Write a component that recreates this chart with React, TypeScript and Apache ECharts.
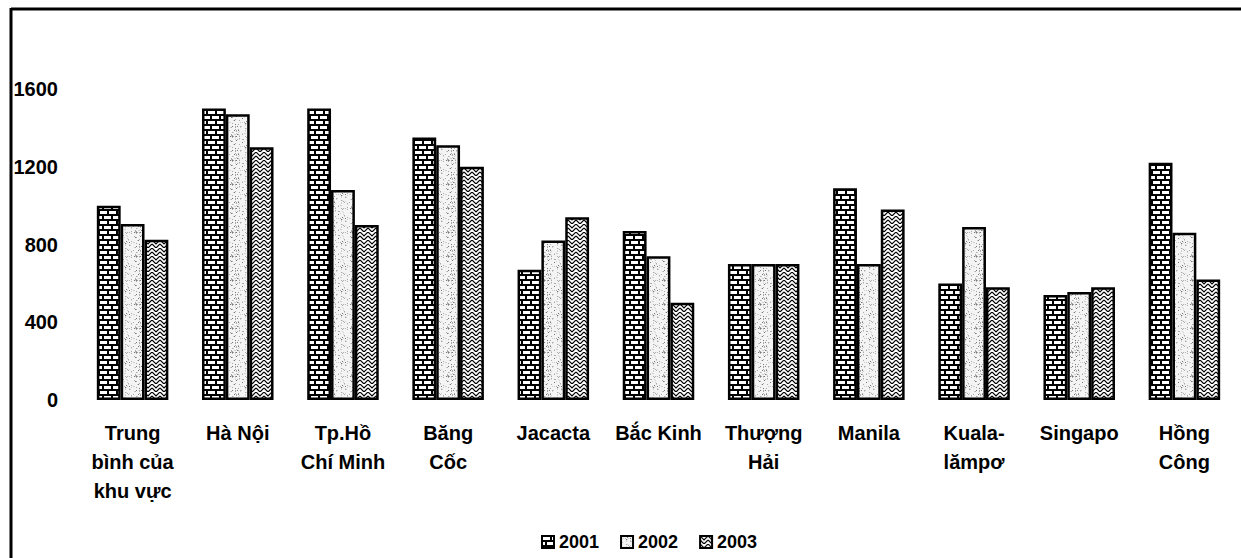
import React, { useEffect, useRef } from "react";
import * as echarts from "echarts";

const categories = [
  "Trung\nbình của\nkhu vực",
  "Hà Nội",
  "Tp.Hồ\nChí Minh",
  "Băng\nCốc",
  "Jacacta",
  "Bắc Kinh",
  "Thượng\nHải",
  "Manila",
  "Kuala-\nlămpơ",
  "Singapo",
  "Hồng\nCông",
];
const seriesNames = ["2001", "2002", "2003"];
const values2001 = [1000, 1500, 1500, 1350, 670, 870, 700, 1090, 600, 540, 1220];
const values2002 = [905, 1470, 1080, 1310, 820, 740, 700, 700, 890, 555, 860];
const values2003 = [825, 1300, 900, 1200, 940, 500, 700, 980, 580, 580, 620];
const yTicks = { min: 0, max: 1600, interval: 400 };

function brickPattern() {
  const c = document.createElement("canvas");
  c.width = 18;
  c.height = 10;
  const g = c.getContext("2d")!;
  g.fillStyle = "#000";
  g.fillRect(0, 0, 18, 10);
  g.fillStyle = "#fff";
  g.fillRect(1, 1, 7, 3);
  g.fillRect(10, 1, 7, 3);
  g.fillRect(0, 6, 3, 3);
  g.fillRect(5, 6, 7, 3);
  g.fillRect(14, 6, 4, 3);
  return c;
}

function stipplePattern() {
  const c = document.createElement("canvas");
  c.width = 24;
  c.height = 24;
  const g = c.getContext("2d")!;
  g.fillStyle = "#f4f4f4";
  g.fillRect(0, 0, 24, 24);
  let s = 12345;
  const next = () => {
    s = (s * 1103515245 + 12345) % 2147483648;
    return s / 2147483648;
  };
  for (let i = 0; i < 110; i++) {
    const x = Math.floor(next() * 24);
    const y = Math.floor(next() * 24);
    const v = next();
    g.fillStyle = v < 0.2 ? "#777" : v < 0.6 ? "#aaa" : "#cfcfcf";
    g.fillRect(x, y, 1, 1);
  }
  return c;
}

function weavePattern() {
  const c = document.createElement("canvas");
  c.width = 8;
  c.height = 8;
  const g = c.getContext("2d")!;
  g.fillStyle = "#fff";
  g.fillRect(0, 0, 8, 8);
  g.strokeStyle = "#000";
  g.lineWidth = 1.2;
  g.beginPath();
  g.moveTo(0, 0);
  g.lineTo(4, 4);
  g.lineTo(8, 0);
  g.moveTo(0, 4);
  g.lineTo(4, 8);
  g.lineTo(8, 4);
  g.stroke();
  return c;
}

export default function App() {
  const ref = useRef<HTMLDivElement>(null);
  useEffect(() => {
    if (!ref.current) return;
    const chart = echarts.init(ref.current, null, { renderer: "svg" });
    const pats = [brickPattern(), stipplePattern(), weavePattern()];
    const fills = pats.map((p) => ({
      image: p,
      repeat: "repeat",
      imageWidth: p.width,
      imageHeight: p.height,
    }));
    const data = [values2001, values2002, values2003];
    const font = "'Liberation Sans', Arial, sans-serif";
    chart.setOption({
      animation: false,
      backgroundColor: "#fff",
      grid: { left: 80, right: 4, top: 89, bottom: 158 },
      legend: {
        data: seriesNames,
        left: 536,
        top: 528,
        itemWidth: 12,
        itemHeight: 12,
        itemGap: 21,
        icon: "rect",
        textStyle: { fontFamily: font, fontWeight: "bold", fontSize: 18, color: "#000" },
        itemStyle: { borderColor: "#000", borderWidth: 2 },
      },
      xAxis: {
        type: "category",
        data: categories,
        axisLine: { show: false },
        axisTick: { show: false },
        axisLabel: {
          interval: 0,
          margin: 18,
          fontFamily: font,
          fontWeight: "bold",
          fontSize: 20,
          lineHeight: 29,
          color: "#000",
        },
      },
      yAxis: {
        type: "value",
        min: yTicks.min,
        max: yTicks.max,
        interval: yTicks.interval,
        axisLine: { show: false },
        axisTick: { show: false },
        splitLine: { show: false },
        axisLabel: {
          margin: 22,
          formatter: (v: number) => String(v),
          fontFamily: font,
          fontWeight: "bold",
          fontSize: 20,
          color: "#000",
        },
      },
      series: seriesNames.map((name, i) => ({
        name,
        type: "bar",
        data: data[i],
        barGap: "0%",
        barCategoryGap: "32%",
        itemStyle: { color: fills[i], borderColor: "#000", borderWidth: 2.5 },
      })),
      graphic: [
        { type: "line", shape: { x1: 11, y1: 9, x2: 1241, y2: 9 }, style: { stroke: "#000", lineWidth: 3 } },
        { type: "line", shape: { x1: 11, y1: 8, x2: 11, y2: 558 }, style: { stroke: "#000", lineWidth: 3 } },
      ],
    });
    return () => chart.dispose();
  }, []);
  return <div ref={ref} style={{ width: 1241, height: 558, position: "absolute", left: 0, top: 0 }} />;
}
